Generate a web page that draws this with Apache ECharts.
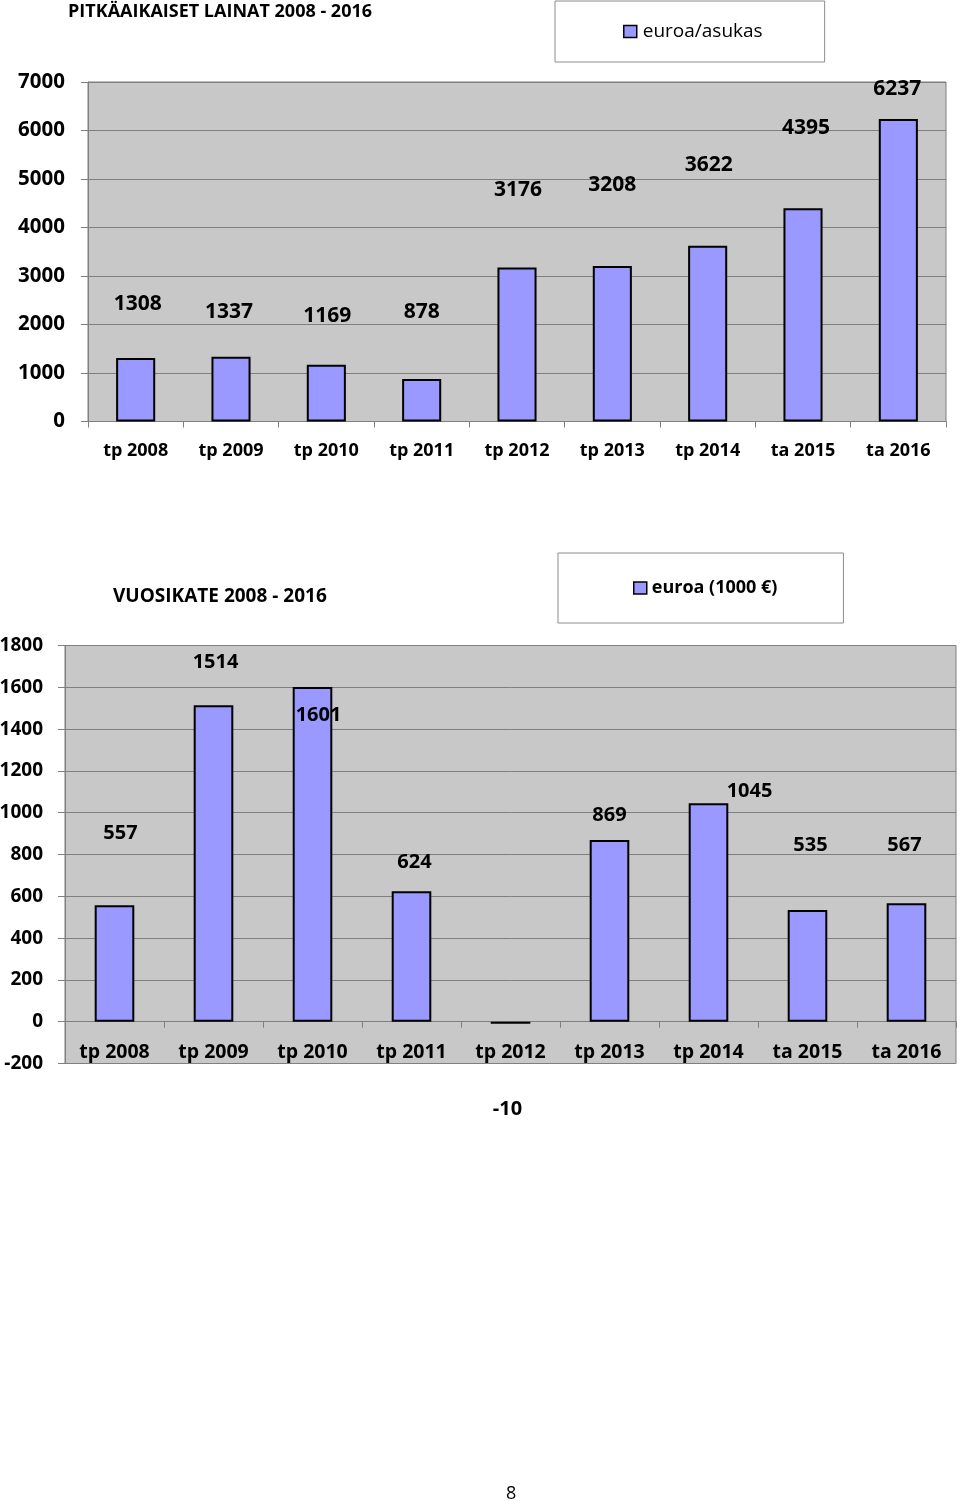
<!DOCTYPE html>
<html>
<head>
<meta charset="utf-8">
<script src="https://cdn.jsdelivr.net/npm/echarts@6/dist/echarts.min.js"></script>
<style>
  html, body { margin: 0; padding: 0; background: #ffffff; }
  #chart { width: 960px; height: 1501px; }
</style>
</head>
<body>
<div id="chart"></div>
<script>
// ---- data ----
const categories = ['tp 2008', 'tp 2009', 'tp 2010', 'tp 2011', 'tp 2012', 'tp 2013', 'tp 2014', 'ta 2015', 'ta 2016'];
const loansPerCapita = [1308, 1337, 1169, 878, 3176, 3208, 3622, 4395, 6237];   // euroa/asukas
const annualMargin = [557, 1514, 1601, 624, -10, 869, 1045, 535, 567];          // euroa (1000 €)
const loansTitle = 'PITKÄAIKAISET LAINAT 2008 - 2016';
const marginTitle = 'VUOSIKATE 2008 - 2016';
const loansSeriesName = 'euroa/asukas';
const marginSeriesName = 'euroa (1000 €)';
const pageNumber = '8';

// ---- layout / style ----
const FONT = '"Open Sans", Lato, "Liberation Sans", sans-serif';
const BAR = '#9999ff';
const PLOT_BG = '#c8c8c8';
const GRID_LINE = '#7f7f7f';
// manual label nudges (the reference's labels were moved by hand)
const loanLabelNudge = [[2, -44], [-2, -35], [1, -39], [0, -57], [1, -67], [0, -71], [1, -71], [3, -70], [-1, -20]];
const marginLabelNudge = [[6, -62], [2, -33], [6, 38], [3, -19], [-3, 98], [0, -15], [41, -2], [3, -55], [-2, -48]];

function withNudges(values, nudges) {
  return values.map((v, i) => ({ value: v, label: { offset: nudges[i] } }));
}
const plainNumber = (v) => String(v);

const chart = echarts.init(document.getElementById('chart'), null, { renderer: 'canvas' });

const yAxisCommon = {
  type: 'value',
  axisLine: { show: true, lineStyle: { color: GRID_LINE, width: 1 } },
  axisTick: { show: true, inside: false, length: 7, lineStyle: { color: GRID_LINE } },
  splitLine: { show: true, lineStyle: { color: GRID_LINE, width: 1 } },
  axisLabel: { color: '#000', fontFamily: FONT, fontWeight: 'bold', margin: 22, formatter: plainNumber }
};
const xAxisCommon = {
  type: 'category',
  data: categories,
  boundaryGap: true,
  axisLine: { show: true, onZero: true, lineStyle: { color: GRID_LINE, width: 1 } },
  axisTick: { show: true, alignWithLabel: false, inside: false, length: 6, lineStyle: { color: GRID_LINE } },
  splitLine: { show: false },
  axisLabel: { color: '#000', fontFamily: FONT, fontWeight: 'bold', interval: 0 }
};

const option = {
  backgroundColor: '#ffffff',
  animation: false,
  title: [
    { text: loansTitle, left: 68, top: 3, padding: 0, textStyle: { fontFamily: FONT, fontWeight: 'bold', fontSize: 18, color: '#000' } },
    { text: marginTitle, left: 113, top: 587, padding: 0, textStyle: { fontFamily: FONT, fontWeight: 'bold', fontSize: 19, color: '#000' } },
    { text: pageNumber, left: 501, top: 1480, textStyle: { fontFamily: FONT, fontWeight: 'normal', fontSize: 18, color: '#000' } }
  ],
  legend: [
    {
      data: [loansSeriesName],
      left: 555, top: 1,
      orient: 'horizontal',
      padding: [21, 62, 21, 68],
      borderColor: '#8c8c8c', borderWidth: 1, backgroundColor: '#fff',
      icon: 'rect', itemWidth: 13, itemHeight: 12, itemGap: 5,
      itemStyle: { borderColor: '#000', borderWidth: 1.5 },
      textStyle: { fontFamily: FONT, fontSize: 19, fontWeight: 'normal', color: '#000', padding: [0, 0, 0, 1] },
      selectedMode: false
    },
    {
      data: [marginSeriesName],
      left: 558, top: 553,
      orient: 'horizontal',
      padding: [26, 66, 26, 75],
      borderColor: '#8c8c8c', borderWidth: 1, backgroundColor: '#fff',
      icon: 'rect', itemWidth: 13, itemHeight: 12, itemGap: 5,
      itemStyle: { borderColor: '#000', borderWidth: 1.5 },
      textStyle: { fontFamily: FONT, fontSize: 18, fontWeight: 'bold', color: '#000' },
      selectedMode: false
    }
  ],
  grid: [
    { left: 88, top: 82, width: 858, height: 339.5, show: true, backgroundColor: PLOT_BG, borderColor: GRID_LINE, borderWidth: 1, containLabel: false, outerBoundsMode: 'none' },
    { left: 65, top: 645.5, width: 891, height: 418, show: true, backgroundColor: PLOT_BG, borderColor: GRID_LINE, borderWidth: 1, containLabel: false, outerBoundsMode: 'none' }
  ],
  xAxis: [
    Object.assign({}, xAxisCommon, { gridIndex: 0, axisLabel: Object.assign({}, xAxisCommon.axisLabel, { fontSize: 18, margin: 20 }) }),
    Object.assign({}, xAxisCommon, { gridIndex: 1, axisLabel: Object.assign({}, xAxisCommon.axisLabel, { fontSize: 19.5, margin: -21 }) })
  ],
  yAxis: [
    Object.assign({}, yAxisCommon, { gridIndex: 0, min: 0, max: 7000, interval: 1000,
      axisLabel: Object.assign({}, yAxisCommon.axisLabel, { fontSize: 20.5, margin: 23 }) }),
    Object.assign({}, yAxisCommon, { gridIndex: 1, min: -200, max: 1800, interval: 200,
      axisLabel: Object.assign({}, yAxisCommon.axisLabel, { fontSize: 19, margin: 22 }) })
  ],
  series: [
    {
      name: loansSeriesName,
      type: 'bar',
      xAxisIndex: 0, yAxisIndex: 0,
      barWidth: '41%',
      data: withNudges(loansPerCapita, loanLabelNudge),
      itemStyle: { color: BAR, borderColor: '#000', borderWidth: 2 },
      label: { show: true, position: 'top', distance: 0, color: '#000', fontFamily: FONT, fontWeight: 'bold', fontSize: 21, lineHeight: 20 }
    },
    {
      name: marginSeriesName,
      type: 'bar',
      xAxisIndex: 1, yAxisIndex: 1,
      barWidth: '40%',
      data: withNudges(annualMargin, marginLabelNudge),
      itemStyle: { color: BAR, borderColor: '#000', borderWidth: 2 },
      label: { show: true, position: 'top', distance: 0, color: '#000', fontFamily: FONT, fontWeight: 'bold', fontSize: 20, lineHeight: 20 }
    }
  ]
};

chart.setOption(option);
</script>
</body>
</html>
